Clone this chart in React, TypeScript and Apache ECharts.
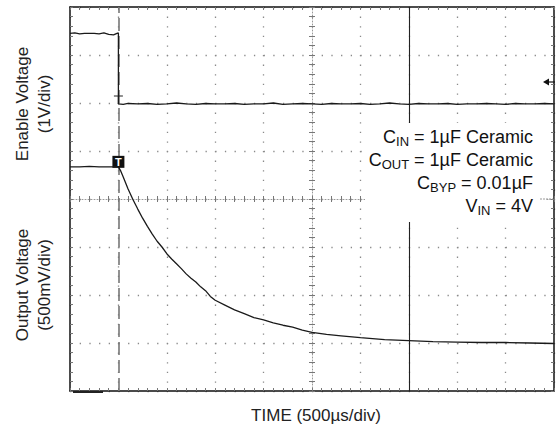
import React, { useEffect, useRef } from "react";
import * as echarts from "echarts";

const FONT = "'Liberation Sans', Arial, Helvetica, sans-serif";

// Horizontal position in screen divisions (500 µs/div), vertical level in screen divisions above the reticle bottom
const enableTime = [
  0, 0.1, 0.2, 0.3, 0.4, 0.5, 0.6, 0.7, 0.8, 0.9, 0.97, 1.0, 1.0, 1.1, 1.2,
  1.4, 1.6, 1.8, 2.0, 2.2, 2.4, 2.6, 2.8, 3.0, 3.2, 3.4, 3.6, 3.8, 4.0, 4.2,
  4.4, 4.6, 4.8, 5.0, 5.2, 5.4, 5.6, 5.8, 6.0, 6.2, 6.4, 6.6, 6.8, 7.0, 7.2,
  7.4, 7.6, 7.8, 8.0, 8.2, 8.4, 8.6, 8.8, 9.0, 9.2, 9.4, 9.6, 9.8, 10.0,
];
const enableLevel = [
  7.45, 7.46, 7.44, 7.45, 7.45, 7.45, 7.44, 7.46, 7.43, 7.42, 7.45, 7.46, 5.98, 5.97, 5.99,
  5.98, 5.99, 5.97, 5.98, 6.0, 5.98, 5.97, 5.99, 5.98, 5.98, 5.99, 5.97, 5.98, 5.98, 6.0,
  5.97, 5.98, 5.99, 5.98, 5.97, 5.99, 5.98, 5.98, 5.99, 5.97, 5.98, 6.0, 5.98, 5.97, 5.99,
  5.98, 5.98, 5.99, 5.97, 5.98, 5.98, 5.99, 5.98, 5.97, 5.99, 5.98, 5.98, 5.99, 5.98,
];

const outputTime = [
  0, 0.2, 0.4, 0.6, 0.8, 1.0, 1.05, 1.1, 1.2, 1.3, 1.4, 1.5, 1.6, 1.7, 1.8, 1.9,
  2.0, 2.1, 2.2, 2.3, 2.4, 2.5, 2.6, 2.7, 2.8, 2.9, 3.0, 3.2, 3.4, 3.6, 3.8, 4.0,
  4.2, 4.4, 4.6, 4.8, 5.0, 5.3, 5.6, 6.0, 6.5, 7.0, 7.5, 8.0, 8.5, 9.0, 9.5, 10.0,
];
const outputLevel = [
  4.67, 4.67, 4.68, 4.67, 4.67, 4.67, 4.58, 4.46, 4.21, 3.99, 3.79, 3.6, 3.43, 3.27, 3.12, 3.0,
  2.86, 2.75, 2.65, 2.55, 2.44, 2.35, 2.27, 2.17, 2.09, 1.97, 1.89, 1.79, 1.69, 1.61, 1.53, 1.48,
  1.42, 1.37, 1.33, 1.27, 1.22, 1.18, 1.15, 1.11, 1.07, 1.05, 1.03, 1.02, 1.01, 1.01, 1.0, 0.99,
];

const timeDivisions = [0, 10];
const levelDivisions = [0, 8];
const triggerTime = 1.0;
const cursorTime = 7.0;
const enableGroundLevel = 5.98;
const outputGroundLevel = 4.67;

const annotationLines = [
  "{m|C}{s|IN}{m| = 1µF Ceramic}",
  "{m|C}{s|OUT}{m| = 1µF Ceramic}",
  "{m|C}{s|BYP}{m| = 0.01µF}",
  "{m|V}{s|IN}{m| = 4V}",
];

const GRID = { left: 70, top: 7, width: 484, height: 384 };

function zip(a: number[], b: number[]) {
  return a.map((v, i) => [v, b[i]]);
}

function xAxisBase(extra: any) {
  return {
    type: "value",
    min: timeDivisions[0],
    max: timeDivisions[1],
    interval: 1,
    axisLabel: { show: false },
    splitLine: { show: false },
    axisTick: { show: false },
    minorTick: { show: false },
    axisLine: { show: false, onZero: false },
    ...extra,
  };
}
function yAxisBase(extra: any) {
  return {
    type: "value",
    min: levelDivisions[0],
    max: levelDivisions[1],
    interval: 1,
    axisLabel: { show: false },
    splitLine: { show: false },
    axisTick: { show: false },
    minorTick: { show: false },
    axisLine: { show: false, onZero: false },
    ...extra,
  };
}

const tickGrey = "#777";
const frameLine = { show: true, onZero: false, lineStyle: { color: "#111", width: 1.5 } };
const centerLine = { show: true, onZero: false, lineStyle: { color: "#999", width: 1, type: [1, 2] } };
const ticksIn = { show: true, inside: true, length: 3, lineStyle: { color: tickGrey, width: 1 } };
const ticksOut = { show: true, inside: false, length: 3, lineStyle: { color: tickGrey, width: 1 } };
const minor = { show: true, splitNumber: 5, length: 3, lineStyle: { color: tickGrey, width: 1 } };

const labelStyle = (text: string) => ({
  text,
  fontSize: 17,
  fontFamily: FONT,
  fill: "#222",
  align: "center",
  verticalAlign: "middle",
});

export default function App() {
  const ref = useRef<HTMLDivElement>(null);
  useEffect(() => {
    if (!ref.current) return;
    const chart = echarts.init(ref.current, undefined, { renderer: "svg" });
    const option: any = {
      animation: false,
      backgroundColor: "#fff",
      textStyle: { fontFamily: FONT },
      grid: { ...GRID, containLabel: false },
      xAxis: [
        xAxisBase({
          position: "bottom",
          axisLine: frameLine,
          axisTick: ticksIn,
          minorTick: minor,
          splitLine: { show: true, lineStyle: { color: "#8a8a8a", width: 1.3, type: [1.3, 8.3] } },
        }),
        xAxisBase({ position: "top", axisLine: frameLine, axisTick: ticksIn, minorTick: minor }),
        xAxisBase({ position: "bottom", offset: -GRID.height / 2, axisLine: centerLine, axisTick: ticksIn, minorTick: minor }),
        xAxisBase({ position: "bottom", offset: -GRID.height / 2, axisTick: ticksOut, minorTick: minor }),
      ],
      yAxis: [
        yAxisBase({
          position: "left",
          axisLine: frameLine,
          axisTick: ticksIn,
          minorTick: minor,
          splitLine: { show: true, lineStyle: { color: "#8a8a8a", width: 1.3, type: [1.3, 8.38] } },
        }),
        yAxisBase({ position: "right", axisLine: frameLine, axisTick: ticksIn, minorTick: minor }),
        yAxisBase({ position: "left", offset: -GRID.width / 2, axisLine: centerLine, axisTick: ticksIn, minorTick: minor }),
        yAxisBase({ position: "left", offset: -GRID.width / 2, axisTick: ticksOut, minorTick: minor }),
      ],
      series: [
        {
          name: "Enable",
          type: "line",
          xAxisIndex: 0,
          yAxisIndex: 0,
          data: zip(enableTime, enableLevel),
          showSymbol: false,
          symbol: "none",
          lineStyle: { color: "#1a1a1a", width: 1.3 },
          z: 5,
          markLine: {
            silent: true,
            symbol: ["none", "none"],
            label: { show: false },
            data: [
              { xAxis: triggerTime, lineStyle: { color: "#777", width: 1.6, type: [13, 5] } },
              { xAxis: cursorTime, lineStyle: { color: "#222", width: 1.1, type: "solid" } },
            ],
          },
          markPoint: {
            silent: true,
            data: [
              {
                coord: [triggerTime, enableGroundLevel],
                symbol: "path://M0,0 L10,0 M5,0 L5,10",
                symbolSize: [9, 8],
                symbolOffset: [0, -4],
                itemStyle: { color: "none", borderColor: "#222", borderWidth: 1 },
                label: { show: false },
              },
            ],
          },
        },
        {
          name: "Output",
          type: "line",
          xAxisIndex: 0,
          yAxisIndex: 0,
          data: zip(outputTime, outputLevel),
          showSymbol: false,
          symbol: "none",
          lineStyle: { color: "#1a1a1a", width: 1.3 },
          z: 5,
          markPoint: {
            silent: true,
            data: [
              {
                coord: [triggerTime, outputGroundLevel],
                symbol: "rect",
                symbolSize: 12,
                symbolOffset: [0, -5],
                itemStyle: { color: "#111" },
                label: {
                  show: true,
                  position: "inside",
                  formatter: "T",
                  color: "#fff",
                  fontSize: 11,
                  fontWeight: "bold",
                  fontFamily: FONT,
                },
              },
            ],
          },
        },
      ],
      graphic: [
        { type: "rect", z: 100, shape: { x: 365, y: 123, width: 181, height: 99 }, style: { fill: "#fff" } },
        {
          type: "text",
          z: 101,
          x: 533,
          y: 125,
          style: {
            text: annotationLines.join("\n"),
            align: "right",
            verticalAlign: "top",
            fill: "#111",
            rich: {
              m: { fontSize: 18, fontFamily: FONT, lineHeight: 23, fill: "#111" },
              s: { fontSize: 13, fontFamily: FONT, lineHeight: 9, verticalAlign: "bottom", fill: "#111" },
            },
          },
        },
        {
          type: "polygon",
          z: 101,
          shape: { points: [[543, 82], [549, 78.5], [549, 85.5]] },
          style: { fill: "#111" },
        },
        { type: "line", z: 101, shape: { x1: 548, y1: 82, x2: 555, y2: 82 }, style: { stroke: "#111", lineWidth: 1.2 } },
        { type: "line", z: 101, shape: { x1: 540, y1: 199, x2: 553, y2: 199 }, style: { stroke: "#999", lineWidth: 1, lineDash: [2, 1] } },
        { type: "line", z: 101, shape: { x1: 73, y1: 392, x2: 103, y2: 392 }, style: { stroke: "#222", lineWidth: 2 } },
        { type: "text", x: 22, y: 104, rotation: Math.PI / 2, style: labelStyle("Enable Voltage") },
        { type: "text", x: 44, y: 104, rotation: Math.PI / 2, style: labelStyle("(1V/div)") },
        { type: "text", x: 22, y: 285, rotation: Math.PI / 2, style: labelStyle("Output Voltage") },
        { type: "text", x: 44, y: 285, rotation: Math.PI / 2, style: labelStyle("(500mV/div)") },
        { type: "text", x: 316, y: 415, style: labelStyle("TIME (500µs/div)") },
      ],
    };
    chart.setOption(option);
    return () => chart.dispose();
  }, []);
  return (
    <div
      ref={ref}
      style={{ position: "fixed", left: 0, top: 0, width: 559, height: 436, background: "#fff" }}
    />
  );
}
